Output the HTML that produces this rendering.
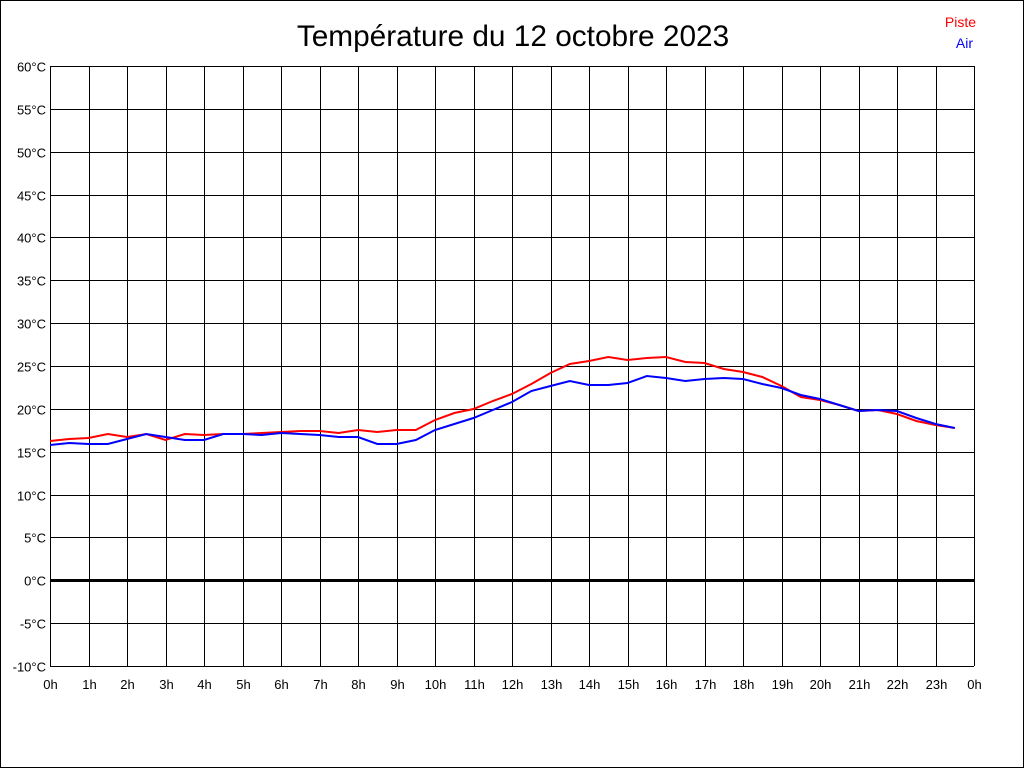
<!DOCTYPE html>
<html><head><meta charset="utf-8"><style>
html,body{margin:0;padding:0;background:#fff;}
svg{display:block;font-family:"Liberation Sans",sans-serif;}
</style></head><body>
<svg id="s" width="1024" height="768" xmlns="http://www.w3.org/2000/svg">
<rect x="0.5" y="0.5" width="1023" height="767" fill="#fff" stroke="#000"/>
<text x="513" y="46" font-size="29.8" text-anchor="middle">Température du 12 octobre 2023</text>
<text x="976" y="27" font-size="14" fill="#f00" text-anchor="end">Piste</text>
<text x="973" y="48" font-size="14" fill="#00f" text-anchor="end">Air</text>
<g id="g"></g>
</svg>
<script>
var g=document.getElementById('g'),h='';
var L=50,R=974,T=66,B=666;
for(var i=0;i<=14;i++){var y=T+i*600/14;y=Math.round(y)+0.5;
 h+='<line x1="'+L+'" x2="'+R+'" y1="'+y+'" y2="'+y+'" stroke="#000" stroke-width="'+(i==12?3:1)+'"/>';
 h+='<text x="46" y="'+(y+5)+'" font-size="13" text-anchor="end">'+(60-5*i)+'°C</text>';}
for(var i=0;i<=24;i++){var x=Math.round(L+i*38.5)+0.5;
 h+='<line x1="'+x+'" x2="'+x+'" y1="'+T+'" y2="'+B+'" stroke="#000"/>';
 h+='<text x="'+x+'" y="689" font-size="13" text-anchor="middle">'+(i%24)+'h</text>';}
var red=[441,439,438,434,437,434,440,434,435,434,434,433,432,431,431,433,430,432,430,430,420,413,409,401,394,384,373,364,361,357,360,358,357,362,363,369,372,377,386,397,400,405,411,410,414,421,425,428];
var blue=[445,443,444,444,439,434,437,440,440,434,434,435,433,434,435,437,437,444,444,440,430,424,418,410,402,391,386,381,385,385,383,376,378,381,379,378,379,384,388,395,399,405,411,410,411,418,424,428];
function pl(a,c){var p=a.map(function(v,i){return (L+i*19.25).toFixed(1)+','+v}).join(' ');
 return '<polyline points="'+p+'" fill="none" stroke="'+c+'" stroke-width="2"/>';}
h+=pl(red,'#f00')+pl(blue,'#00f');
g.innerHTML=h;
</script>
</body></html>
